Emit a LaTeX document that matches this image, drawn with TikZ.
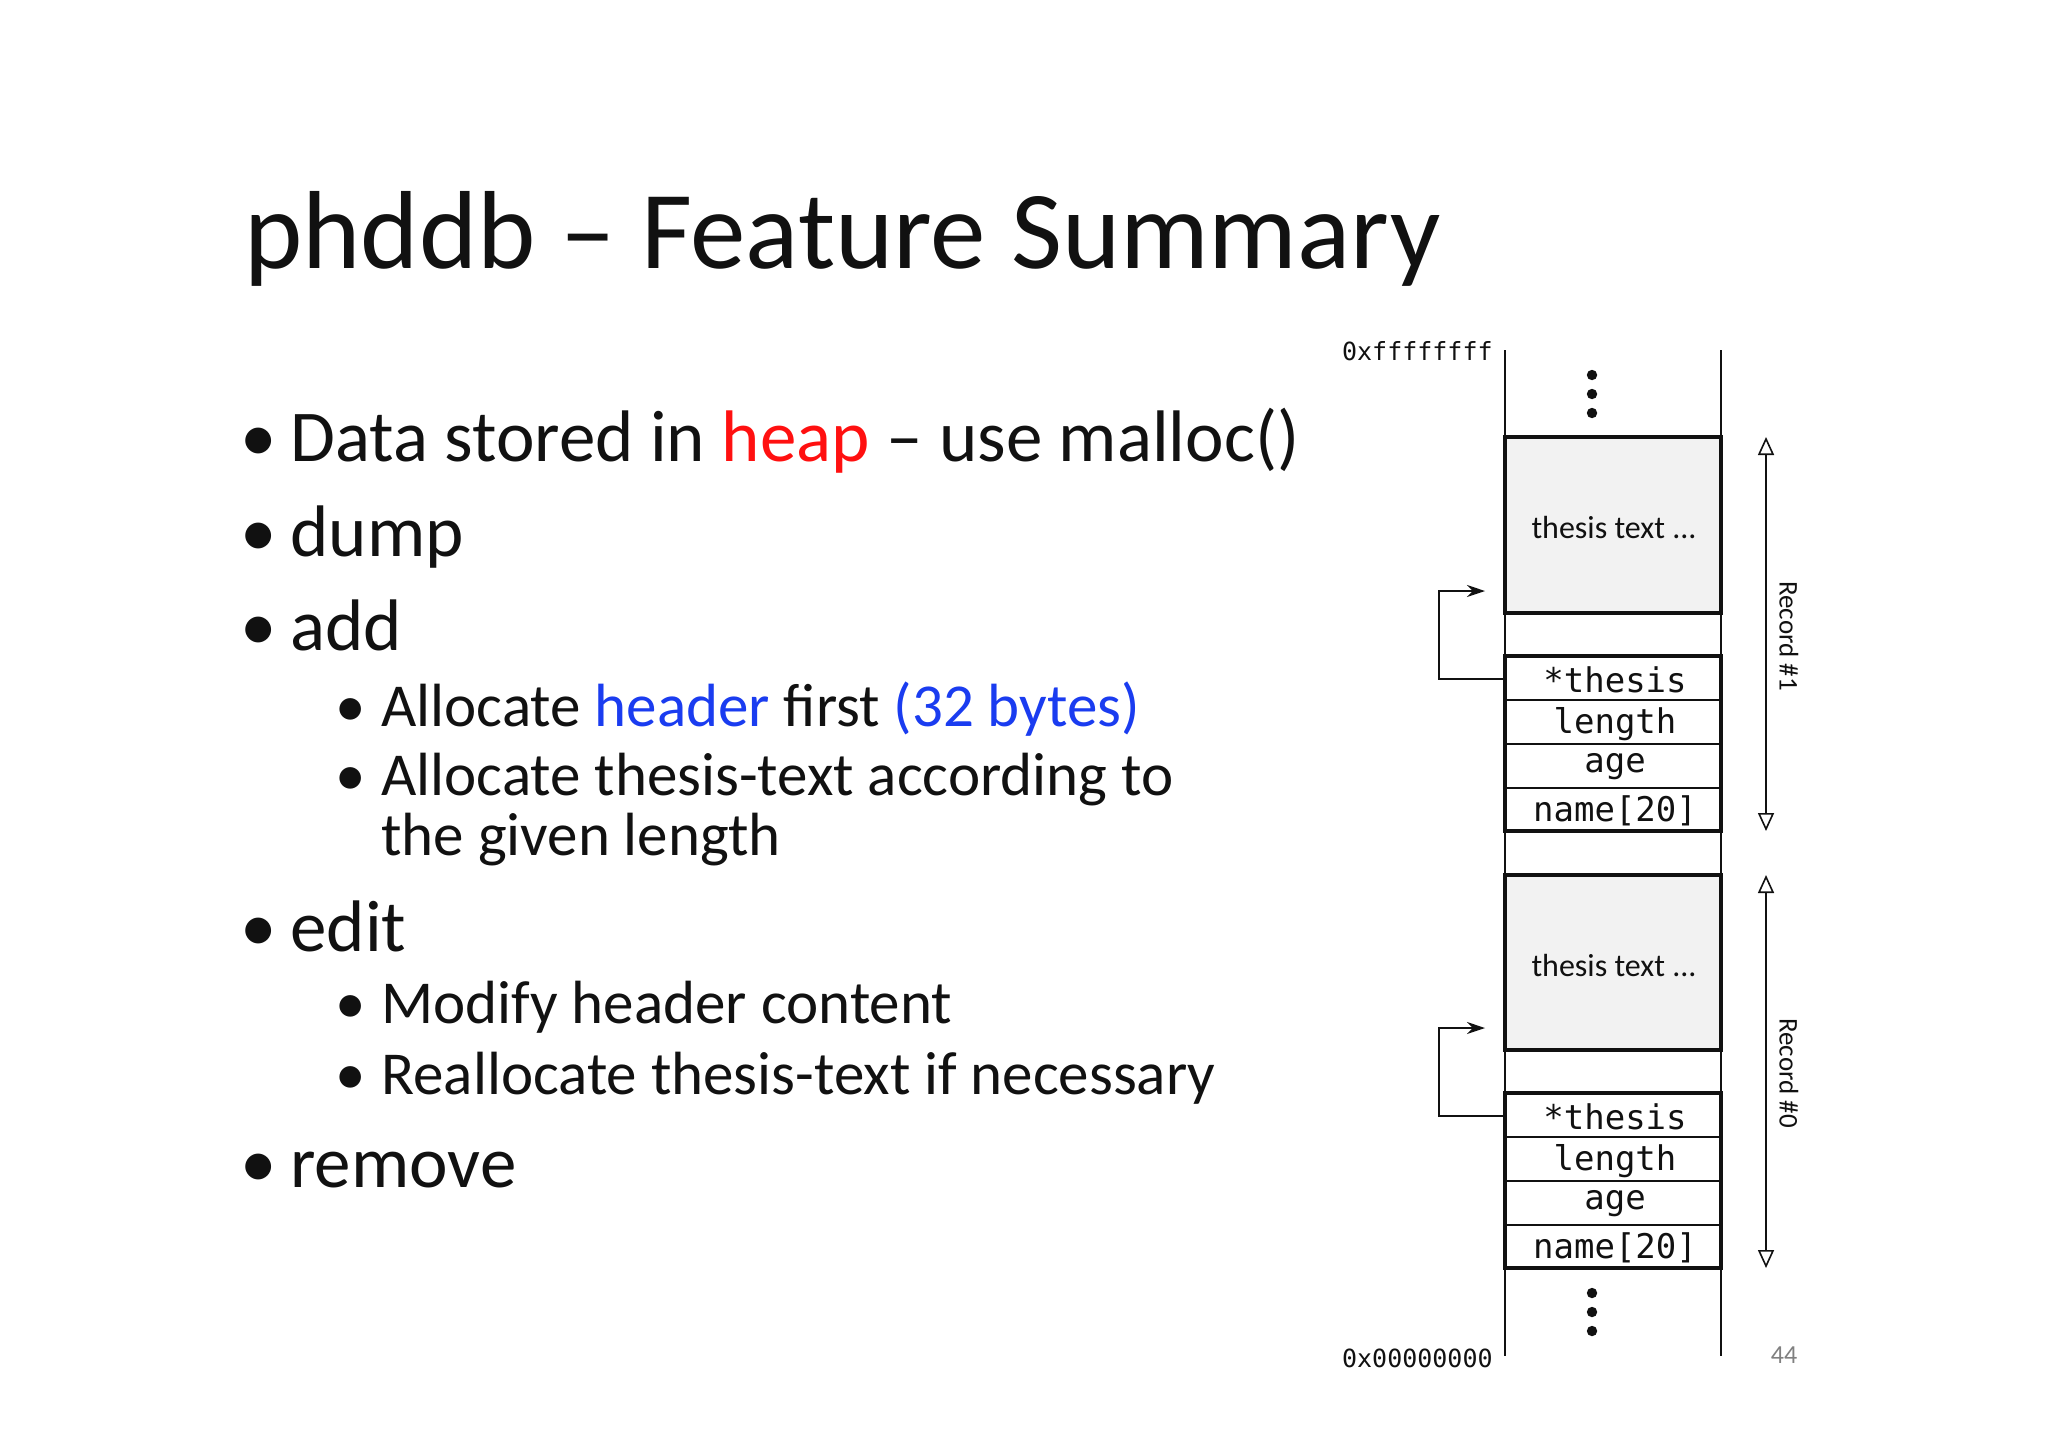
\documentclass[tikz,border=0pt]{standalone}
\usepackage{fontspec}
\setmainfont{Carlito}
\newfontfamily\monof{DejaVu Sans Mono}
\usetikzlibrary{arrows.meta}
\definecolor{ink}{HTML}{111111}
\definecolor{hred}{HTML}{FF1010}
\definecolor{hblue}{HTML}{1A3CF0}
\definecolor{boxfill}{HTML}{F2F2F2}
\begin{document}
\begin{tikzpicture}[x=0.5pt,y=-0.5pt,
  lone/.style={anchor=base west,inner sep=0,text=ink,font=\fontsize{36.5}{40}\selectfont},
  ltwo/.style={anchor=base west,inner sep=0,text=ink,font=\fontsize{30.5}{32}\selectfont},
  textbox/.style={draw=ink,line width=1.8pt,fill=boxfill},
  rowbox/.style={draw=ink,line width=0.8pt},
  mono/.style={inner sep=0,text=ink,font=\monof\fontsize{17}{18}\selectfont},
  ptr/.style={draw=ink,line width=0.8pt,-{Stealth[length=9pt,width=6pt]}},
  rec/.style={draw=ink,line width=0.8pt,{Triangle[open,length=9pt,width=8pt]}-{Triangle[open,length=9pt,width=8pt]}}]
\useasboundingbox[fill=white] (0,0) rectangle (2048,1447);
% title
\node[anchor=base west,inner sep=0,text=ink,font=\fontsize{55.5}{60}\selectfont] (title) at (244,268) {phddb – Feature Summary};
% bullets
\node[lone] (b1) at (240,461) {•};
\node[lone] (t1) at (290,461) {Data stored in \textcolor{hred}{heap} – use malloc()};
\node[lone] (b2) at (240,556) {•};
\node[lone] (t2) at (290,556) {dump};
\node[lone] (b3) at (240,650) {•};
\node[lone] (t3) at (290,650) {add};
\node[ltwo] (b31) at (335,726) {•};
\node[ltwo] (t31) at (381,726) {Allocate \textcolor{hblue}{header} first \textcolor{hblue}{(32 bytes)}};
\node[ltwo] (b32) at (335,795) {•};
\node[ltwo] (t32) at (381,795) {Allocate thesis-text according to};
\node[ltwo] (t32b) at (381,855) {the given length};
\node[lone] (b4) at (240,951) {•};
\node[lone] (t4) at (290,951) {edit};
\node[ltwo] (b41) at (335,1023) {•};
\node[ltwo] (t41) at (381,1023) {Modify header content};
\node[ltwo] (b42) at (335,1094) {•};
\node[ltwo] (t42) at (381,1094) {Reallocate thesis-text if necessary};
\node[lone] (b5) at (240,1187) {•};
\node[lone] (t5) at (290,1187) {remove};
% memory column
\coordinate (lt) at (1505,350); \coordinate (lb) at (1505,1356);
\coordinate (rt) at (1721,350); \coordinate (rb) at (1721,1356);
\draw[ink,line width=1pt] (lt) -- (lb) (rt) -- (rb);
\node[anchor=east,inner sep=0,text=ink,font=\monof\fontsize{12.5}{13}\selectfont] (addrhi) at (1493,351) {0xffffffff};
\node[anchor=east,inner sep=0,text=ink,font=\monof\fontsize{12.5}{13}\selectfont] (addrlo) at (1493,1358) {0x00000000};
\foreach \y in {375,394,413,1293,1312,1331} \fill[ink] (1592,\y) circle (2.6pt);
% record 1
\draw[textbox] (1505,437) rectangle (1721,613);
\node[inner sep=0,text=ink,font=\fontsize{16}{17}\selectfont] (tt1) at (1614,527) {thesis text ...};
\draw[rowbox] (1505,656) rectangle (1721,700) (1505,700) rectangle (1721,744) (1505,744) rectangle (1721,788) (1505,788) rectangle (1721,831);
\draw[ink,line width=1.8pt] (1505,656) rectangle (1721,831);
\node[mono] (th1) at (1615,680) {*thesis};
\node[mono] (le1) at (1615,724) {length};
\node[mono] (ag1) at (1615,767) {age};
\node[mono] (na1) at (1615,811) {name[20]};
\coordinate (p1s) at (1505,679); \coordinate (p1e) at (1485,591);
\draw[ptr] (p1s) -| (1439,591) -- (p1e);
\draw[rec] (1766,437) -- (1766,831);
\node[rotate=-90,inner sep=0,text=ink,font=\fontsize{13.5}{14}\selectfont] (r1) at (1789,636) {Record \#1};
% record 0
\draw[textbox] (1505,875) rectangle (1721,1050);
\node[inner sep=0,text=ink,font=\fontsize{16}{17}\selectfont] (tt0) at (1614,965) {thesis text ...};
\draw[rowbox] (1505,1093) rectangle (1721,1137) (1505,1137) rectangle (1721,1181) (1505,1181) rectangle (1721,1225) (1505,1225) rectangle (1721,1268);
\draw[ink,line width=1.8pt] (1505,1093) rectangle (1721,1268);
\node[mono] (th0) at (1615,1117) {*thesis};
\node[mono] (le0) at (1615,1161) {length};
\node[mono] (ag0) at (1615,1204) {age};
\node[mono] (na0) at (1615,1248) {name[20]};
\coordinate (p0s) at (1505,1116); \coordinate (p0e) at (1485,1028);
\draw[ptr] (p0s) -| (1439,1028) -- (p0e);
\draw[rec] (1766,875) -- (1766,1268);
\node[rotate=-90,inner sep=0,text=ink,font=\fontsize{13.5}{14}\selectfont] (r0) at (1789,1073) {Record \#0};
\node[inner sep=0,text=gray,font=\fontsize{13}{14}\selectfont] (pg) at (1784,1355) {44};
\end{tikzpicture}
\end{document}
